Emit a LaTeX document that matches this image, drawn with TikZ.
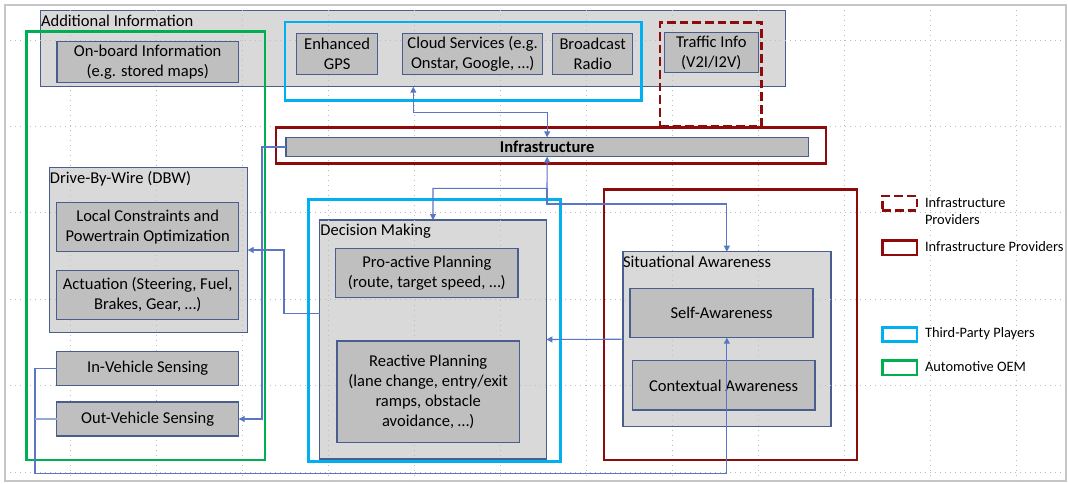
\documentclass[tikz,border=0pt]{standalone}
\usepackage{fontspec}
\setmainfont{Carlito}
\usetikzlibrary{arrows.meta}
\definecolor{cont}{HTML}{D9D9D9}
\definecolor{innerc}{HTML}{BFBFBF}
\definecolor{edge}{HTML}{4A5D8F}
\definecolor{oem}{HTML}{00B050}
\definecolor{third}{HTML}{00B0F0}
\definecolor{infrac}{HTML}{8E0B0B}
\definecolor{conn}{HTML}{5B77C4}
\definecolor{connlight}{HTML}{93A8DB}
\definecolor{gridc}{HTML}{BDBDBD}
\newcommand{\mkbox}[7]{%
  \node[#6, minimum width={(#4-#2)*0.75pt}, minimum height={(#5-#3)*0.75pt}] (#1) at ({(#2+#4)/2},{(#3+#5)/2}) {#7};}
\begin{document}
\begin{tikzpicture}[x=0.75pt,y=-0.75pt,
  every node/.style={font=\fontsize{12.4}{15}\selectfont, inner sep=0pt, outer sep=0pt},
  cbox/.style={draw=edge, fill=cont, line width=1.1pt},
  ibox/.style={draw=edge, fill=innerc, line width=1.1pt, align=center},
  oemframe/.style={draw=oem, line width=2pt},
  tpframe/.style={draw=third, line width=2pt},
  ipframe/.style={draw=infrac, line width=2.2pt},
  ipdash/.style={draw=infrac, line width=2.2pt, dash pattern=on 6.5pt off 3pt},
  ctitle/.style={anchor=west},
  legtext/.style={anchor=west, align=left, font=\fontsize{10.8}{12.75}\selectfont},
  link/.style={draw=conn, line width=0.8pt},
  linklight/.style={draw=connlight, line width=0.8pt},
  >={Triangle[length=4.5pt,width=4.5pt]},
  gridline/.style={draw=gridc, line width=0.7pt, dash pattern=on 0.75pt off 3pt}
]
\useasboundingbox (0,0) rectangle (1068,483);
% canvas frame
\draw[draw=gray!45, line width=1.5pt] (5,481) -- (5,5) -- (1066,5) -- (1066,481) -- cycle;

% containers
\mkbox{addinfo}{40.6}{10.7}{785.7}{86.7}{cbox}{}
\mkbox{dbw}{49.3}{167.3}{247.7}{332.7}{cbox}{}
\mkbox{dm}{319.6}{220}{546.4}{459}{cbox}{}
\mkbox{sa}{622.8}{251.7}{830.9}{426.7}{cbox}{}

% grid
\foreach \gx in {70,156,...,1016} \draw[gridline] (\gx,5) -- (\gx,481);
\foreach \gy in {40,126.4,212.8,299.2,385.6,472} \draw[gridline] (5,\gy) -- (1066,\gy);

% container titles
\node[ctitle] (addinfoT) at (41,21) {Additional Information};
\node[ctitle] (dbwT) at (50,178.3) {Drive-By-Wire (DBW)};
\node[ctitle] (dmT) at (320.4,230.7) {Decision Making};
\node[ctitle] (saT) at (623,262.3) {Situational Awareness};

% inner boxes
\mkbox{onboard}{56.8}{41.7}{238.6}{82.3}{ibox}{On-board Information\\(e.g. stored maps)}
\mkbox{gps}{296.7}{33.3}{377.7}{74.3}{ibox}{Enhanced\\GPS}
\mkbox{cloud}{402.7}{33.3}{542.7}{74.3}{ibox}{Cloud Services (e.g.\\Onstar, Google, …)}
\mkbox{radio}{552.7}{33.3}{632.7}{74.3}{ibox}{Broadcast\\Radio}
\mkbox{traffic}{664.3}{32.3}{758.3}{72.7}{ibox}{Traffic Info\\(V2I/I2V)}
\mkbox{infra}{286}{137.3}{808.3}{156.7}{ibox}{\textbf{Infrastructure}}
\mkbox{local}{56.7}{202.3}{238.7}{251.7}{ibox}{Local Constraints and\\Powertrain Optimization}
\mkbox{actu}{56.7}{270.7}{238.7}{319.3}{ibox}{Actuation (Steering, Fuel,\\Brakes, Gear, …)}
\mkbox{inveh}{56.7}{351.7}{238.7}{385.3}{ibox}{In-Vehicle Sensing}
\mkbox{outveh}{56.7}{402}{238.7}{436}{ibox}{Out-Vehicle Sensing}
\mkbox{proact}{335.7}{248.3}{517.9}{297.3}{ibox}{Pro-active Planning\\(route, target speed, …)}
\mkbox{react}{336.8}{341}{519.6}{442.3}{ibox}{Reactive Planning\\(lane change, entry/exit\\ramps, obstacle\\avoidance, …)}
\mkbox{selfaw}{630.2}{288.7}{813}{337.7}{ibox}{Self-Awareness}
\mkbox{context}{632.3}{360.7}{815}{410}{ibox}{Contextual Awareness}

% player frames
\mkbox{oemF}{26.7}{31.7}{265}{460}{oemframe}{}
\mkbox{tpF1}{285}{22}{641.7}{100.7}{tpframe}{}
\mkbox{ipD}{660}{22.3}{761.7}{126}{ipdash}{}
\mkbox{ipF1}{276}{127.7}{826}{163.3}{ipframe}{}
\mkbox{tpF2}{308.2}{199.3}{560.7}{461.7}{tpframe}{}
\mkbox{ipF2}{604}{189.3}{857}{460}{ipframe}{}

% legend
\mkbox{lg1}{882.4}{196}{917}{210.7}{ipdash}{}
\mkbox{lg2}{882.4}{240.3}{917}{255}{ipframe}{}
\mkbox{lg3}{882.4}{327.3}{917}{341.7}{tpframe}{}
\mkbox{lg4}{882.4}{360.7}{917}{375}{oemframe}{}
\node[legtext] (lg1T) at (925,210.8) {Infrastructure\\Providers};
\node[legtext] (lg2T) at (925,246.7) {Infrastructure Providers};
\node[legtext] (lg3T) at (925,333.3) {Third-Party Players};
\node[legtext] (lg4T) at (925,366.7) {Automotive OEM};

% connectors
\coordinate (k1) at (413.3,112.3);
\coordinate (k2) at (262,147);
\coordinate (k3) at (547,188.3);
\coordinate (k4) at (547,204);
\coordinate (k5) at (284,313.3);
\coordinate (k7) at (35,473.3);
\draw[link,<->] (addinfo.south -| k1) -- (k1) -| (infra.north);
\draw[link,->] (infra.west) -- (k2) |- (outveh.east);
\draw[link,<->] (infra.south) -- (k3) -| (dm.north);
\draw[link,->] (k3) -- (k4) -| (sa.north);
\draw[link,->] (dm.west |- k5) -- (k5) |- (dbw.east);
\draw[link,->] (sa.west) -- (dm.east);
\draw[link,->] (inveh.west) -| (k7) -| (selfaw.south -| sa.north);
\draw[linklight] (outveh.west) -- (outveh.west -| k7);
\end{tikzpicture}
\end{document}
